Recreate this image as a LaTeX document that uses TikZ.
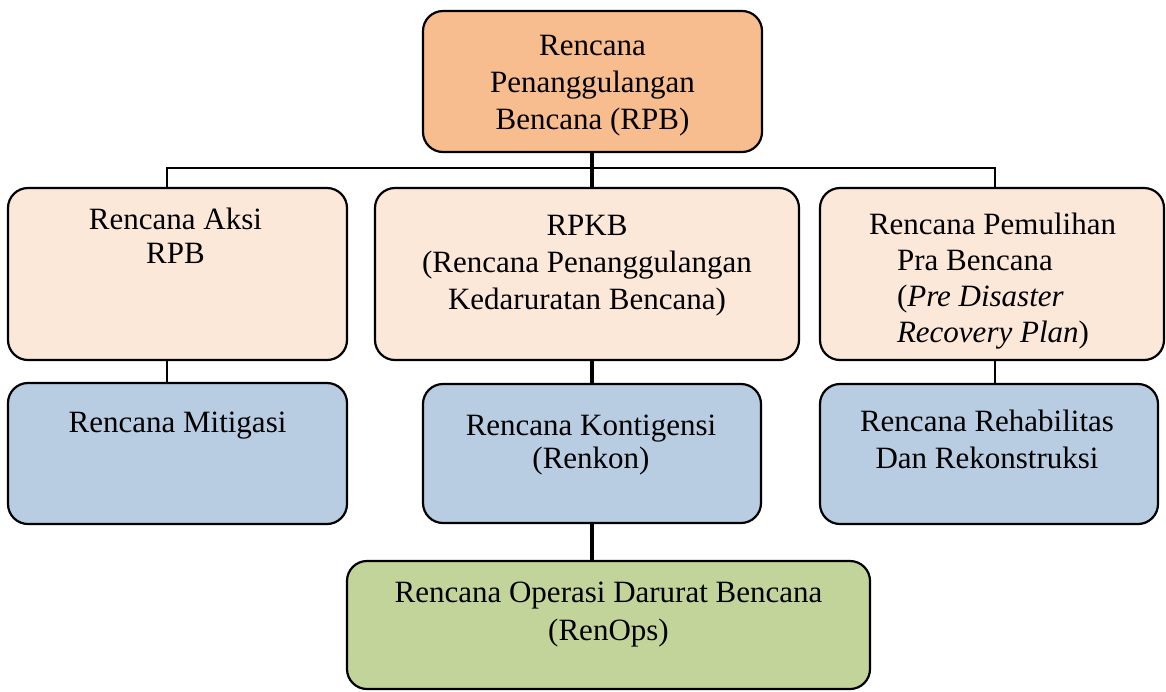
\documentclass[tikz,border=0pt]{standalone}
\usepackage{fontspec}
\setmainfont{Liberation Serif}
\definecolor{cOrange}{HTML}{F8BD8F}
\definecolor{cPeach}{HTML}{FBE8D9}
\definecolor{cBlue}{HTML}{B8CCE2}
\definecolor{cGreen}{HTML}{C3D49B}
\tikzset{
  boxbase/.style={draw=black, line width=2.2pt, rounded corners=20pt, inner sep=0pt, outer sep=0pt},
  lbl/.style={inner sep=0pt, outer sep=0pt, anchor=north, align=center, text=black},
  thinline/.style={line width=2pt, black},
  thickline/.style={line width=4pt, black},
}
\newcommand{\fs}[1]{\fontsize{31}{#1}\selectfont}
\begin{document}
\begin{tikzpicture}[x=1pt,y=-1pt]
\useasboundingbox (0,0) rectangle (1166,691);
% boxes
\node[boxbase, fill=cOrange, minimum width=339pt, minimum height=141pt,
  label={[lbl, yshift=-24pt, font=\fs{37}]north:{Rencana\\Penanggulangan\\Bencana (RPB)}}]
  (top) at (592.5,81.5) {};
\node[boxbase, fill=cPeach, minimum width=339pt, minimum height=172pt,
  label={[lbl, yshift=-20pt, xshift=-2pt, font=\fs{33.5}]north:{Rencana Aksi\\RPB}}]
  (aksi) at (177.5,274) {};
\node[boxbase, fill=cPeach, minimum width=424pt, minimum height=172pt,
  label={[lbl, yshift=-27pt, font=\fs{37}]north:{RPKB\\(Rencana Penanggulangan\\Kedaruratan Bencana)}}]
  (rpkb) at (587,274) {};
\node[boxbase, fill=cPeach, minimum width=344pt, minimum height=172pt,
  label={[lbl, anchor=north west, align=left, xshift=49pt, yshift=-25pt, font=\fs{36}]north west:{Rencana Pemulihan\\\hspace*{28pt}Pra Bencana\\\hspace*{28pt}(\textit{Pre Disaster}\\\hspace*{28pt}\textit{Recovery Plan})}}]
  (pem) at (992,274) {};
\node[boxbase, fill=cBlue, minimum width=339pt, minimum height=141pt,
  label={[lbl, yshift=-29pt, font=\fs{37}]north:{Rencana Mitigasi}}]
  (mit) at (177.5,453.5) {};
\node[boxbase, fill=cBlue, minimum width=338pt, minimum height=139pt,
  label={[lbl, yshift=-31pt, xshift=-1pt, font=\fs{33}]north:{Rencana Kontigensi\\(Renkon)}}]
  (renkon) at (592,453.5) {};
\node[boxbase, fill=cBlue, minimum width=338pt, minimum height=140pt,
  label={[lbl, yshift=-26pt, xshift=-2pt, font=\fs{37}]north:{Rencana Rehabilitas\\Dan Rekonstruksi}}]
  (rehab) at (989,454) {};
\node[boxbase, fill=cGreen, minimum width=523pt, minimum height=128pt,
  label={[lbl, yshift=-21pt, font=\fs{38}]north:{Rencana Operasi Darurat Bencana\\(RenOps)}}]
  (renops) at (608.5,625) {};
% connectors
\coordinate (bus) at (592,168);
\draw[thinline] ([xshift=-10.5pt]aksi.north) -- ([xshift=-10.5pt]aksi.north |- bus)
  -- ([xshift=3pt]pem.north |- bus) -- ([xshift=3pt]pem.north);
\draw[thinline] ([xshift=-10.5pt]aksi.south) -- ([xshift=-10.5pt]aksi.south |- mit.north);
\draw[thinline] ([xshift=3pt]pem.south) -- ([xshift=3pt]pem.south |- rehab.north);
\draw[thickline] ([xshift=-1pt]top.south) -- ([xshift=-1pt]top.south |- rpkb.north);
\draw[thickline] ([xshift=-0.5pt]renkon.north |- rpkb.south) -- ([xshift=-0.5pt]renkon.north);
\draw[thickline] ([xshift=-0.5pt]renkon.south) -- ([xshift=-0.5pt]renkon.south |- renops.north);
\end{tikzpicture}
\end{document}
